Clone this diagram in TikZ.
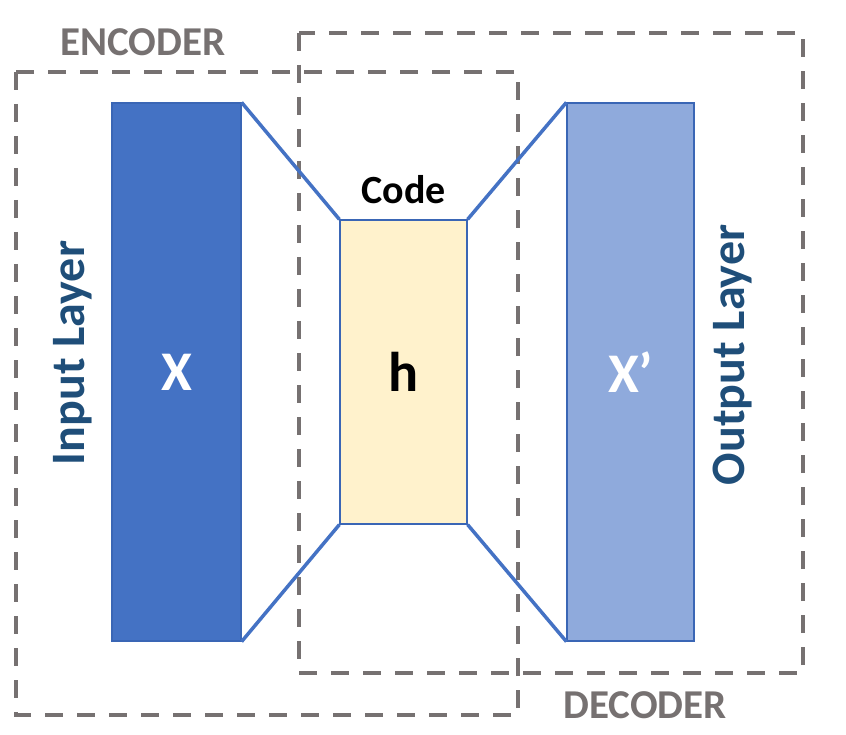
\documentclass[tikz,border=0pt]{standalone}
\usepackage{fontspec}
\setmainfont{Carlito}
\usetikzlibrary{positioning}
\definecolor{barblue}{HTML}{4472C4}
\definecolor{barlight}{HTML}{8FAADC}
\definecolor{codefill}{HTML}{FFF2CC}
\definecolor{edgeblue}{HTML}{3A66B5}
\definecolor{boxgray}{HTML}{767171}
\definecolor{labelblue}{HTML}{1F4E79}
\tikzset{
  layerbar/.style={draw=edgeblue,line width=1.2pt,inner sep=0pt},
  groupbox/.style={draw=boxgray,line width=3.5pt,dash pattern=on 18pt off 14pt},
  funnel/.style={draw=barblue,line width=3.5pt},
  grouplabel/.style={text=boxgray,font=\bfseries\fontsize{41}{48}\selectfont},
  sidelabel/.style={text=labelblue,font=\bfseries\fontsize{48}{56}\selectfont,rotate=90},
  barlabel/.style={font=\bfseries\fontsize{56}{64}\selectfont},
}
\begin{document}
\begin{tikzpicture}[x=1pt,y=-1pt]
\useasboundingbox(0,0)rectangle(846,735);
%
\draw[groupbox](16,72)rectangle(518,715);
\draw[groupbox](299,33)rectangle(803,673);
\node[grouplabel](enc) at (143,42){ENCODER};
\node[grouplabel](dec) at (645,705){DECODER};
%
\node[layerbar,fill=barblue,minimum width=129pt,minimum height=538pt](xin) at (176.5,372){};
\node[layerbar,fill=codefill,minimum width=127pt,minimum height=304pt](code) at (403.5,372){};
\node[layerbar,fill=barlight,minimum width=127pt,minimum height=538pt](xout) at (630.5,372){};
%
\draw[funnel](xin.north east)--(code.north west);
\draw[funnel](xin.south east)--(code.south west);
\draw[funnel](code.north east)--(xout.north west);
\draw[funnel](code.south east)--(xout.south west);
%
\node[font=\bfseries\fontsize{40}{48}\selectfont,above=12pt of code](codelabel){Code};
\node[barlabel,text=white](xlbl) at (xin){X};
\node[barlabel](hlbl) at (code){h};
\node[barlabel,text=white](xplbl) at (xout){X’};
\node[sidelabel](inlbl) at (73,353){Input Layer};
\node[sidelabel](outlbl) at (733,355){Output Layer};
\end{tikzpicture}
\end{document}
